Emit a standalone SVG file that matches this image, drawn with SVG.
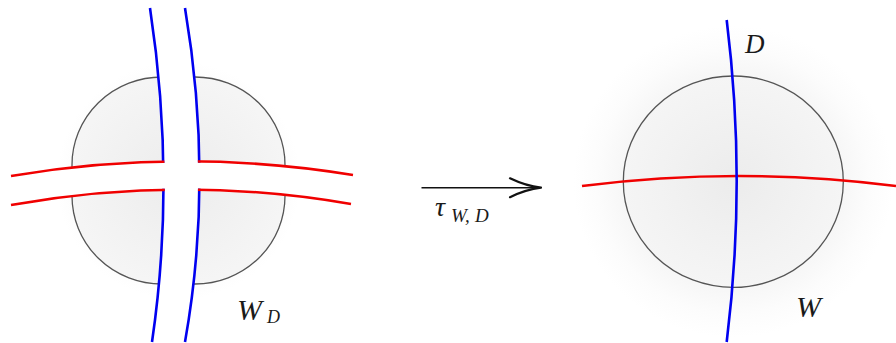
<svg xmlns="http://www.w3.org/2000/svg" width="896" height="343" viewBox="0 0 896 343">
<style>
.blue{fill:none;stroke:#0000f0;stroke-width:2.6}
.red{fill:none;stroke:#f00000;stroke-width:2.6}
.outline{stroke:#555;stroke-width:1.3}
.lbl{font-family:"Liberation Serif","Times New Roman",serif;font-style:italic;font-weight:normal;fill:#1a1a1a}
</style>
<defs>
<radialGradient id="fillL" cx="0.5" cy="0.5" r="0.5">
<stop offset="0" stop-color="#ececec"/><stop offset="1" stop-color="#f5f5f5"/>
</radialGradient>
<radialGradient id="glow" cx="0.5" cy="0.5" r="0.5">
<stop offset="0.7" stop-color="#f7f7f7"/><stop offset="0.85" stop-color="#fcfcfc"/><stop offset="1" stop-color="#ffffff"/>
</radialGradient>
<clipPath id="noRedBandFull"><path clip-rule="evenodd" d="M0,0H400V343H0Z M11,176 Q181,147 353,175 L351,204 Q181,174.5 11,205Z"/></clipPath>
<clipPath id="noBlueBandFull"><path clip-rule="evenodd" d="M0,0H400V343H0Z M150,8 Q176,179 152,342 L185,342 Q214,179 185,8Z"/></clipPath>
<clipPath id="blueClip"><path clip-rule="evenodd" d="M0,0H400V343H0Z M11,177.3 Q181,148.3 353,176.3 L351,202.7 Q181,173.2 11,203.7Z"/></clipPath>
<clipPath id="redClip"><path clip-rule="evenodd" d="M0,0H400V343H0Z M151.3,8 Q177.3,179 153.3,342 L183.7,342 Q212.7,179 183.7,8Z"/></clipPath>
</defs>
<rect width="896" height="343" fill="#fff"/>

<g id="left-figure">
<g clip-path="url(#noRedBandFull)"><g clip-path="url(#noBlueBandFull)">
<ellipse cx="178.5" cy="180.5" rx="122" ry="119" fill="url(#glow)"/>
<rect class="outline" x="72" y="77" width="213" height="207" rx="90" ry="88" fill="url(#fillL)"/>
</g></g>
<g clip-path="url(#blueClip)">
<path class="blue" d="M150,8 Q176,179 152,342"/>
<path class="blue" d="M185,8 Q214,179 185,342"/>
</g>
<g clip-path="url(#redClip)">
<path class="red" d="M11,176 Q181,147 353,175"/>
<path class="red" d="M11,205 Q181,174.5 351,204"/>
</g>
<text class="lbl" x="237" y="320" font-size="30">W</text>
<text class="lbl" x="267" y="323" font-size="18">D</text>
</g>

<g id="right-figure">
<ellipse cx="733" cy="181.5" rx="160" ry="156" fill="url(#glow)"/>
<ellipse class="outline" cx="733.3" cy="181.7" rx="110" ry="105.7" fill="url(#fillL)"/>
<path class="red" d="M582,186 Q739,166 896,186"/>
<path class="blue" d="M726.7,20 Q746.7,181 726.7,342"/>
<text class="lbl" x="745" y="53" font-size="27">D</text>
<text class="lbl" x="796" y="317" font-size="30">W</text>
</g>

<g id="connectors">
<path d="M421.5,187.7 H539" fill="none" stroke="#111" stroke-width="1.4"/>
<path d="M510,178.3 Q526,186 541,187.7 Q526,189.5 510,197.2" fill="none" stroke="#111" stroke-width="2.2" stroke-linecap="round" stroke-linejoin="round"/>
<text class="lbl" x="435" y="215.5" font-size="28">τ</text>
<text class="lbl" x="451" y="221.5" font-size="19">W,</text>
<text class="lbl" x="475" y="221.5" font-size="19">D</text>
</g>
</svg>
